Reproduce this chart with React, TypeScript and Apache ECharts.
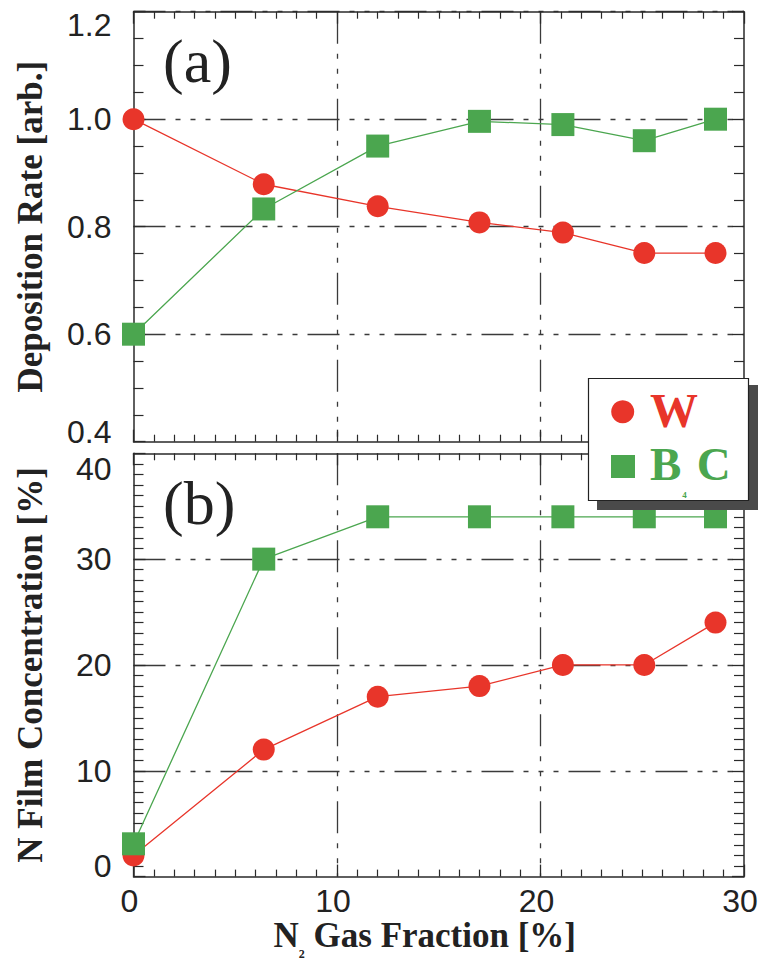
import React, { useEffect, useRef } from 'react';
import * as echarts from 'echarts';

// ---- data ----
const gasFraction = [0, 6.4, 12.0, 17.0, 21.1, 25.1, 28.6];
const rateW = [1.0, 0.879, 0.838, 0.808, 0.789, 0.751, 0.751];
const rateB4C = [0.6, 0.833, 0.95, 0.996, 0.99, 0.96, 1.0];
const concW = [2.0, 12.0, 17.0, 18.0, 20.0, 20.0, 24.0];
const concB4C = [3.1, 30.0, 34.0, 34.0, 34.0, 34.0, 34.0];
const xTicks = [0, 10, 20, 30];
const rateTicks = [0.4, 0.6, 0.8, 1.0, 1.2];
const concTicks = [0, 10, 20, 30, 40];

const RED = '#E8352A';
const GREEN = '#4BA64F';
const SANS = '"Liberation Sans", Arial, Helvetica, sans-serif';
const SERIF = '"Liberation Serif", "Times New Roman", serif';

const axisLineStyle = { color: '#2a2a2a', width: 1.5 };
const gridLineStyle = { color: '#3a3a3a', width: 1.3, type: [32, 10, 5, 10, 5, 10, 5, 10] };

const GRID_LEFT = 133.5;
const GRID_W = 610.5;
const GRID_H = 430;
const TOP1 = 11.7;
const TOP2 = 453.3;

function xAxisDef(gridIndex: number, position: 'top' | 'bottom', primary: boolean, labels: boolean, name?: string) {
  return {
    type: 'value',
    gridIndex,
    position,
    min: xTicks[0],
    max: xTicks[xTicks.length - 1],
    interval: xTicks[1] - xTicks[0],
    axisLine: { show: true, onZero: false, lineStyle: axisLineStyle },
    axisTick: { show: true, inside: true, length: 12, lineStyle: { color: '#2a2a2a', width: 1.3 } },
    minorTick: { show: true, splitNumber: 10, length: 7, lineStyle: { color: '#2a2a2a', width: 1.2 } },
    splitLine: { show: primary, showMinLine: false, showMaxLine: false, lineStyle: gridLineStyle },
    axisLabel: labels
      ? { show: true, fontFamily: SANS, fontSize: 32, color: '#222', margin: 8, padding: [0, 8, 0, 0] }
      : { show: false },
    name: name,
    nameLocation: 'middle',
    nameGap: 32,
    nameTextStyle: {
      padding: [0, 28, 0, 0],
      rich: {
        n: { fontFamily: SERIF, fontWeight: 'bold', fontSize: 35, lineHeight: 50, color: '#222', verticalAlign: 'middle' },
        s: { fontFamily: SERIF, fontWeight: 'bold', fontSize: 12, lineHeight: 12, color: '#222', verticalAlign: 'bottom' },
      },
    },
  };
}

function yAxisDef(
  gridIndex: number,
  position: 'left' | 'right',
  primary: boolean,
  ticks: number[],
  minorSplit: number,
  fmt: (v: number) => string,
  hiPad: number,
  loPad: number,
  name?: string
) {
  const min = ticks[0];
  const max = ticks[ticks.length - 1];
  const eps = 1e-6;
  return {
    type: 'value',
    gridIndex,
    position,
    min,
    max,
    interval: ticks[1] - ticks[0],
    axisLine: { show: true, onZero: false, lineStyle: axisLineStyle },
    axisTick: { show: true, inside: true, length: 12, lineStyle: { color: '#2a2a2a', width: 1.3 } },
    minorTick: { show: true, splitNumber: minorSplit, length: 10, lineStyle: { color: '#2a2a2a', width: 1.2 } },
    splitLine: { show: primary, showMinLine: false, showMaxLine: false, lineStyle: gridLineStyle },
    axisLabel: primary
      ? {
          show: true,
          margin: 22,
          formatter: (v: number) => {
            const t = fmt(v);
            if (Math.abs(v - max) < eps) return `{hi|${t}}`;
            if (Math.abs(v - min) < eps) return `{lo|${t}}`;
            return `{m|${t}}`;
          },
          rich: {
            m: { fontFamily: SANS, fontSize: 32, color: '#222' },
            hi: { fontFamily: SANS, fontSize: 32, color: '#222', padding: [hiPad, 0, 0, 0] },
            lo: { fontFamily: SANS, fontSize: 32, color: '#222', padding: [0, 0, loPad, 0] },
          },
        }
      : { show: false },
    name: name,
    nameLocation: 'middle',
    nameRotate: 90,
    nameGap: 86,
    nameTextStyle: { fontFamily: SERIF, fontWeight: 'bold', fontSize: 35, color: '#222' },
  };
}

function App() {
  const ref = useRef<HTMLDivElement>(null);

  useEffect(() => {
    if (!ref.current) return;
    const chart = echarts.init(ref.current, undefined, { renderer: 'svg' });

    const pts = (ys: number[]) => gasFraction.map((x, i) => [x, ys[i]]);

    const option: any = {
      animation: false,
      backgroundColor: '#ffffff',
      grid: [
        { left: GRID_LEFT, top: TOP1, width: GRID_W, height: GRID_H, containLabel: false },
        { left: GRID_LEFT, top: TOP2, width: GRID_W, height: GRID_H, containLabel: false },
      ],
      xAxis: [
        xAxisDef(0, 'bottom', true, false),
        xAxisDef(0, 'top', false, false),
        xAxisDef(1, 'bottom', true, true, '{n|N}{s|2}{n| Gas Fraction [%]}'),
        xAxisDef(1, 'top', false, false),
      ],
      yAxis: [
        yAxisDef(0, 'left', true, rateTicks, 4, (v) => v.toFixed(1), 26, 20, 'Deposition Rate [arb.]'),
        yAxisDef(0, 'right', false, rateTicks, 4, (v) => v.toFixed(1), 0, 0),
        yAxisDef(1, 'left', true, concTicks, 10, (v) => String(Math.round(v)), 32, 22, 'N Film Concentration [%]'),
        yAxisDef(1, 'right', false, concTicks, 10, (v) => String(Math.round(v)), 0, 0),
      ],
      series: [
        {
          name: 'W',
          type: 'line',
          xAxisIndex: 0,
          yAxisIndex: 0,
          data: pts(rateW),
          symbol: 'circle',
          symbolSize: 22,
          itemStyle: { color: RED },
          lineStyle: { color: RED, width: 1.3 },
          z: 3,
        },
        {
          name: 'B₄C',
          type: 'line',
          xAxisIndex: 0,
          yAxisIndex: 0,
          data: pts(rateB4C),
          symbol: 'rect',
          symbolSize: 23,
          itemStyle: { color: GREEN },
          lineStyle: { color: GREEN, width: 1.3 },
          z: 4,
        },
        {
          name: 'W',
          type: 'line',
          xAxisIndex: 2,
          yAxisIndex: 2,
          data: pts(concW),
          symbol: 'circle',
          symbolSize: 22,
          itemStyle: { color: RED },
          lineStyle: { color: RED, width: 1.3 },
          z: 3,
        },
        {
          name: 'B₄C',
          type: 'line',
          xAxisIndex: 2,
          yAxisIndex: 2,
          data: pts(concB4C),
          symbol: 'rect',
          symbolSize: 23,
          itemStyle: { color: GREEN },
          lineStyle: { color: GREEN, width: 1.3 },
          z: 4,
        },
      ],
      graphic: [
        {
          type: 'text',
          left: 163,
          top: 30,
          style: { text: '(a)', font: `normal 62px ${SERIF}`, fill: '#222' },
          z: 10,
        },
        {
          type: 'text',
          left: 163,
          top: 472,
          style: { text: '(b)', font: `normal 62px ${SERIF}`, fill: '#222' },
          z: 10,
        },
        // legend box with hard shadow
        {
          type: 'rect',
          shape: { x: 597, y: 385, width: 161, height: 125 },
          style: { fill: '#4a4a4a' },
          z: 20,
        },
        {
          type: 'rect',
          shape: { x: 588.5, y: 378.5, width: 160, height: 122 },
          style: { fill: '#ffffff', stroke: '#222', lineWidth: 1.2 },
          z: 21,
        },
        {
          type: 'circle',
          shape: { cx: 622.7, cy: 411.7, r: 11.5 },
          style: { fill: RED },
          z: 22,
        },
        {
          type: 'rect',
          shape: { x: 611, y: 455, width: 24, height: 23 },
          style: { fill: GREEN },
          z: 22,
        },
        {
          type: 'text',
          z: 22,
          style: {
            x: 650,
            y: 410,
            text: 'W',
            font: `bold 48px ${SERIF}`,
            fill: RED,
            textAlign: 'left',
            verticalAlign: 'middle',
          },
        },
        {
          type: 'text',
          z: 22,
          style: {
            x: 650,
            y: 464,
            text: '{b|B}{s|4}{b|C}',
            textAlign: 'left',
            verticalAlign: 'middle',
            rich: {
              b: { fontFamily: SERIF, fontWeight: 'bold', fontSize: 47, lineHeight: 70, fill: GREEN, verticalAlign: 'middle' },
              s: { fontFamily: SERIF, fontWeight: 'bold', fontSize: 9, lineHeight: 12, fill: GREEN, verticalAlign: 'bottom', padding: [0, 10, 0, 1] },
            },
          },
        },
      ],
    };

    chart.setOption(option);
    return () => chart.dispose();
  }, []);

  return (
    <div
      ref={ref}
      style={{ position: 'absolute', left: 0, top: 0, width: 761, height: 961, background: '#fff' }}
    />
  );
}

export default App;
